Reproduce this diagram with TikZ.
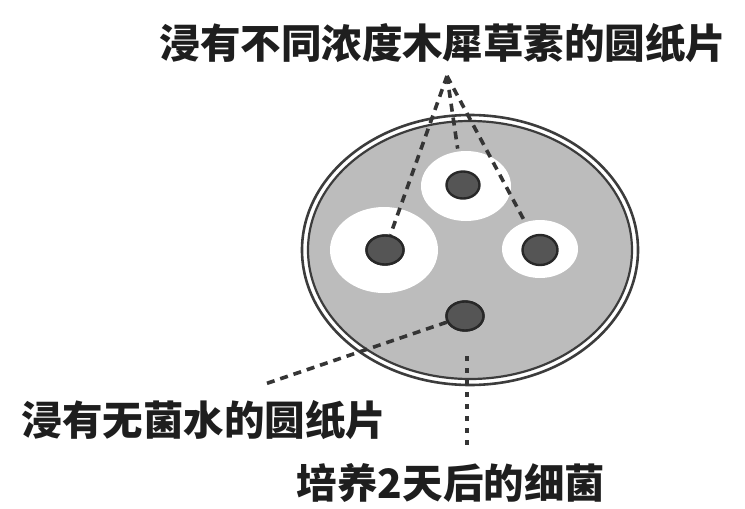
\documentclass[tikz,border=0pt]{standalone}
\usepackage{fontspec}
\newfontfamily\cjk{Noto Sans CJK SC}
\usetikzlibrary{shapes.geometric}
\definecolor{agar}{RGB}{188,188,188}
\definecolor{rim}{RGB}{60,60,60}
\definecolor{diskfill}{RGB}{85,85,85}
\definecolor{diskedge}{RGB}{40,40,40}
\definecolor{ink}{RGB}{30,30,30}
\begin{document}
\begin{tikzpicture}[x=1pt,y=-1pt,
  label text/.style={font=\cjk\bfseries\fontsize{40.5}{42}\selectfont, text=ink, inner sep=0pt},
  halo/.style={ellipse, fill=white, draw=none, inner sep=0pt},
  disk/.style={ellipse, fill=diskfill, draw=diskedge, line width=2.4pt, inner sep=0pt},
  guide/.style={draw=ink!90, line width=3.6pt, dash pattern=on 8pt off 6pt},
  dotted guide/.style={draw=ink!90, line width=3.6pt, dash pattern=on 5pt off 7pt}]
\useasboundingbox (0,0) rectangle (745,509);

% petri dish: outer rim, clear gap, inner rim with the bacterial lawn
\draw[rim, line width=2.6pt, fill=white] (470,250) ellipse [x radius=168, y radius=135];
\draw[rim, line width=2.2pt, fill=agar] (470,250) ellipse [x radius=162, y radius=129];

% inhibition zones around the treated paper disks
\node[halo, minimum width=90pt, minimum height=70pt] (zoneT) at (466,186) {};
\node[halo, minimum width=108pt, minimum height=86pt] (zoneL) at (384,250) {};
\node[halo, minimum width=76pt, minimum height=58pt] (zoneR) at (540,249) {};

% paper disks
\node[disk, minimum width=33pt, minimum height=27pt] (diskT) at (463,185) {};
\node[disk, minimum width=37pt, minimum height=29pt] (diskL) at (385,250) {};
\node[disk, minimum width=35pt, minimum height=30pt] (diskR) at (540,250) {};
\node[disk, minimum width=37pt, minimum height=29pt] (diskW) at (465,316) {};

% labels
\node[label text] (topLabel) at (443,43) {浸有不同浓度木犀草素的圆纸片};
\node[label text] (waterLabel) at (204,420) {浸有无菌水的圆纸片};
\node[label text] (bactLabel) at (451,483) {培养2天后的细菌};

% leader lines
\coordinate (apex) at (447,76);
\coordinate (waterEnd) at (265,384);
\coordinate (lawn) at (467,356);
\draw[guide] (apex) -- (diskL);
\draw[guide, shorten >=22pt] (apex) -- (diskT);
\draw[guide, shorten >=14pt] (apex) -- (diskR);
\draw[guide] (diskW) -- (waterEnd);
\draw[dotted guide, shorten >=14pt] (lawn) -- (lawn |- bactLabel.north);
% redraw disks above the leader ends
\node[disk, minimum width=37pt, minimum height=29pt] at (diskL) {};
\node[disk, minimum width=37pt, minimum height=29pt] at (diskW) {};
\end{tikzpicture}
\end{document}
